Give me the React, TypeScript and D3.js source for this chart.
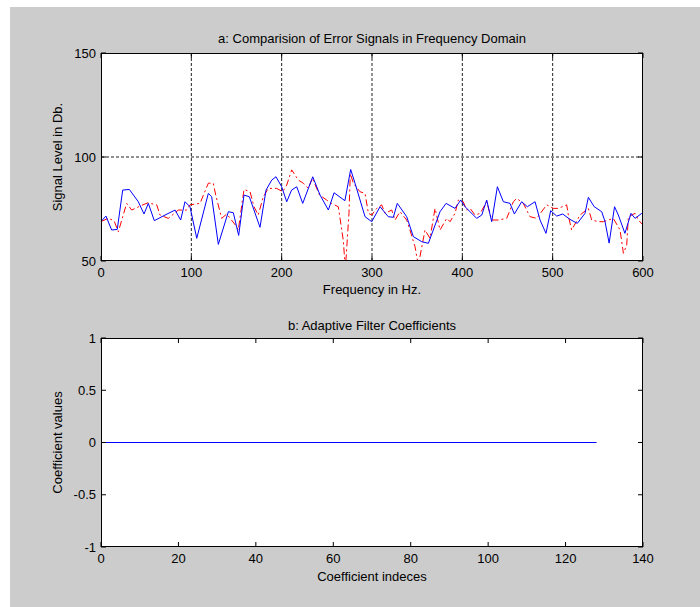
import React from "react";
import * as d3 from "d3";

// Panel a: error signal spectra (frequency in Hz, level in dB)
const blueFreq = [0, 5.5, 11.8, 18, 24, 31.4, 41.3, 47.6, 52.4, 59, 70.9, 82, 88.2, 93, 98.5, 106, 118.8, 122.5, 129.9, 141, 146.5, 152.4, 158.3, 164.2, 176, 182.7, 189, 193.7, 200, 205.6, 211, 216.7, 223.3, 234.4, 242.5, 251.7, 258, 270, 276.4, 281.2, 292.3, 299.7, 308.9, 318, 323.6, 328, 338.4, 345.8, 355, 362.4, 375.3, 382, 391.9, 398.2, 403, 415.9, 421.5, 427, 432.5, 438.8, 445.4, 452.8, 457.6, 465.7, 472, 480.5, 486, 492.6, 497.8, 504.5, 511.1, 519.2, 527.3, 535.8, 539.5, 546, 554.3, 558, 562.5, 568.5, 572.7, 580, 586.7, 591.2, 598.6, 600];
const blueLevel = [69, 71.6, 64.9, 65.2, 84.1, 84.4, 78.5, 72.6, 77.7, 69.4, 72.1, 74.5, 69.7, 78.5, 76.1, 60.9, 82.5, 80.9, 58, 73.7, 73.2, 62.3, 81.7, 80.9, 66.2, 84.1, 88.9, 90.5, 85.7, 78.5, 84.1, 85.7, 77.7, 90.5, 81.7, 74.5, 82.8, 79, 94, 87.4, 71.3, 68.9, 76.1, 71.3, 71, 77.7, 71.3, 61.7, 59.3, 58.5, 73.7, 77.7, 75.3, 79.3, 76.1, 70.5, 72.1, 79.3, 68.9, 85.7, 78.5, 77.7, 72.6, 78.5, 76.1, 78.5, 69.7, 63.3, 74.2, 71.6, 72.6, 70, 68.1, 72.9, 80.6, 76.1, 73.7, 68.9, 58.6, 76.1, 72.1, 63.3, 72.9, 70.5, 72.9, 72];

const redFreq = [0, 8.1, 14.4, 19.2, 28.4, 34, 43.2, 52, 61.7, 65.3, 74.5, 85.6, 94.9, 98.5, 109.6, 118.8, 124.3, 127, 133.6, 139.2, 150.2, 152, 158.3, 165, 169.4, 174, 179.7, 185.2, 194.5, 201.1, 205.6, 211.1, 218.5, 224, 229.5, 234, 242, 249.9, 255, 262.7, 268.2, 270.5, 274.5, 276, 279.4, 286.7, 292.3, 296, 299.7, 305.2, 310.7, 314.4, 321.8, 325.5, 331, 338.4, 342, 347.6, 351.3, 358.7, 364.2, 369.8, 375.3, 382.7, 386.4, 391.9, 395.6, 401, 404.8, 408.6, 414, 419.7, 427, 432.5, 439.9, 449.1, 456.5, 460.2, 467.5, 474.9, 482.3, 493.4, 500.8, 506.3, 515.5, 518, 521, 530.3, 539.5, 543.2, 550.6, 556.1, 567.1, 574.6, 578.3, 582, 583.8, 591.2, 594.9, 600];
const redLevel = [69, 70.5, 69.4, 64.1, 77.7, 74.5, 76.4, 78, 77, 72.1, 70.5, 74.5, 74.5, 77, 77.7, 87.4, 87.4, 81.7, 70.5, 72.6, 66.5, 64.9, 84.4, 83.3, 76.1, 72.1, 80.9, 84.9, 84.9, 83.3, 86.5, 93.8, 88.9, 87.4, 84.9, 89.8, 81.7, 79.3, 77.7, 76.1, 60, 46, 72.9, 92, 87.4, 83.3, 82.5, 72.9, 72.1, 75.3, 77, 72.9, 74.5, 69.7, 73.7, 69.7, 64.9, 56.9, 48, 64.9, 60.9, 75.3, 64.9, 70.5, 68.9, 72.9, 79.3, 78.5, 74.5, 75.3, 72.1, 72.9, 78.5, 69.7, 69.7, 70.5, 78.5, 80.1, 77.7, 71.3, 70.5, 77, 75.3, 75.3, 77, 70.5, 64.9, 72.1, 75.3, 69.7, 68.9, 68.9, 70.5, 64.9, 53.7, 57.7, 71.3, 72.9, 69.7, 67.3];

const freqTicks = [0, 100, 200, 300, 400, 500, 600];
const levelTicks = [50, 100, 150];

// Panel b: adaptive filter coefficients
const coefIndex = [0, 128];
const coefValue = [0, 0];
const coefXTicks = [0, 20, 40, 60, 80, 100, 120, 140];
const coefYTicks = [-1, -0.5, 0, 0.5, 1];

const W = 700;
const H = 607;
const L = 101;
const R = 643;
const FONT = "'Liberation Sans', Arial, sans-serif";

export default function App() {
  const xa = d3.scaleLinear().domain([0, 600]).range([L, R]);
  const ya = d3.scaleLinear().domain([50, 150]).range([261, 53]);
  const xb = d3.scaleLinear().domain([0, 140]).range([L, R]);
  const yb = d3.scaleLinear().domain([-1, 1]).range([547, 338]);

  const lineA = d3
    .line<[number, number]>()
    .x((d) => xa(d[0]))
    .y((d) => ya(d[1]));
  const lineB = d3
    .line<[number, number]>()
    .x((d) => xb(d[0]))
    .y((d) => yb(d[1]));

  const bluePts = blueFreq.map((f, i) => [f, blueLevel[i]] as [number, number]);
  const redPts = redFreq.map((f, i) => [f, redLevel[i]] as [number, number]);
  const coefPts = coefIndex.map((c, i) => [c, coefValue[i]] as [number, number]);

  const tick = 5;
  const txt = { fontFamily: FONT, fontSize: 13, fill: "#000" } as const;

  return (
    <svg width={W} height={H} style={{ position: "absolute", left: 0, top: 0, background: "#fff" }}>
      <defs>
        <clipPath id="clipA">
          <rect x={L} y={53} width={R - L} height={261 - 53} />
        </clipPath>
      </defs>
      <rect x={10} y={7} width={W - 10} height={H - 7} fill="#cccccc" />

      {/* Panel a */}
      <rect x={L} y={53} width={R - L} height={261 - 53} fill="#fff" />
      {freqTicks.slice(1, -1).map((t) => (
        <line key={"gx" + t} x1={xa(t)} x2={xa(t)} y1={53} y2={261} stroke="#222" strokeDasharray="3 2" strokeWidth={1} />
      ))}
      {levelTicks.slice(1, -1).map((t) => (
        <line key={"gy" + t} x1={L} x2={R} y1={ya(t)} y2={ya(t)} stroke="#222" strokeDasharray="3 2" strokeWidth={1} />
      ))}
      <g clipPath="url(#clipA)">
        <path d={lineA(redPts) || ""} fill="none" stroke="#ff0000" strokeWidth={1} strokeDasharray="7 3 2 3" />
        <path d={lineA(bluePts) || ""} fill="none" stroke="#0000ff" strokeWidth={1} />
      </g>
      {freqTicks.map((t) => (
        <g key={"tx" + t}>
          <line x1={xa(t)} x2={xa(t)} y1={261} y2={261 - tick} stroke="#000" />
          <line x1={xa(t)} x2={xa(t)} y1={53} y2={53 + tick} stroke="#000" />
          <text x={xa(t)} y={277} textAnchor="middle" {...txt}>{t}</text>
        </g>
      ))}
      {levelTicks.map((t) => (
        <g key={"ty" + t}>
          <line x1={L} x2={L + tick} y1={ya(t)} y2={ya(t)} stroke="#000" />
          <line x1={R} x2={R - tick} y1={ya(t)} y2={ya(t)} stroke="#000" />
          <text x={96} y={ya(t) + 4.5} textAnchor="end" {...txt}>{t}</text>
        </g>
      ))}
      <rect x={L + 0.5} y={53.5} width={R - L - 1} height={261 - 53 - 1} fill="none" stroke="#000" strokeWidth={1} />
      <text x={(L + R) / 2} y={43} textAnchor="middle" {...txt}>a: Comparision of Error Signals in Frequency Domain</text>
      <text x={(L + R) / 2} y={294} textAnchor="middle" {...txt}>Frequency in Hz.</text>
      <text transform={`translate(62,${(53 + 261) / 2}) rotate(-90)`} textAnchor="middle" {...txt}>Signal Level in Db.</text>

      {/* Panel b */}
      <rect x={L} y={338} width={R - L} height={547 - 338} fill="#fff" />
      <path d={lineB(coefPts) || ""} fill="none" stroke="#0000ff" strokeWidth={1} />
      {coefXTicks.map((t) => (
        <g key={"bx" + t}>
          <line x1={xb(t)} x2={xb(t)} y1={547} y2={547 - tick} stroke="#000" />
          <line x1={xb(t)} x2={xb(t)} y1={338} y2={338 + tick} stroke="#000" />
          <text x={xb(t)} y={563} textAnchor="middle" {...txt}>{t}</text>
        </g>
      ))}
      {coefYTicks.map((t) => (
        <g key={"by" + t}>
          <line x1={L} x2={L + tick} y1={yb(t)} y2={yb(t)} stroke="#000" />
          <line x1={R} x2={R - tick} y1={yb(t)} y2={yb(t)} stroke="#000" />
          <text x={96} y={yb(t) + 4.5} textAnchor="end" {...txt}>{t}</text>
        </g>
      ))}
      <rect x={L + 0.5} y={338.5} width={R - L - 1} height={547 - 338 - 1} fill="none" stroke="#000" strokeWidth={1} />
      <text x={(L + R) / 2} y={330} textAnchor="middle" {...txt}>b: Adaptive Filter Coefficients</text>
      <text x={(L + R) / 2} y={581} textAnchor="middle" {...txt}>Coefficient indeces</text>
      <text transform={`translate(62,${(338 + 547) / 2}) rotate(-90)`} textAnchor="middle" {...txt}>Coefficient values</text>
    </svg>
  );
}
